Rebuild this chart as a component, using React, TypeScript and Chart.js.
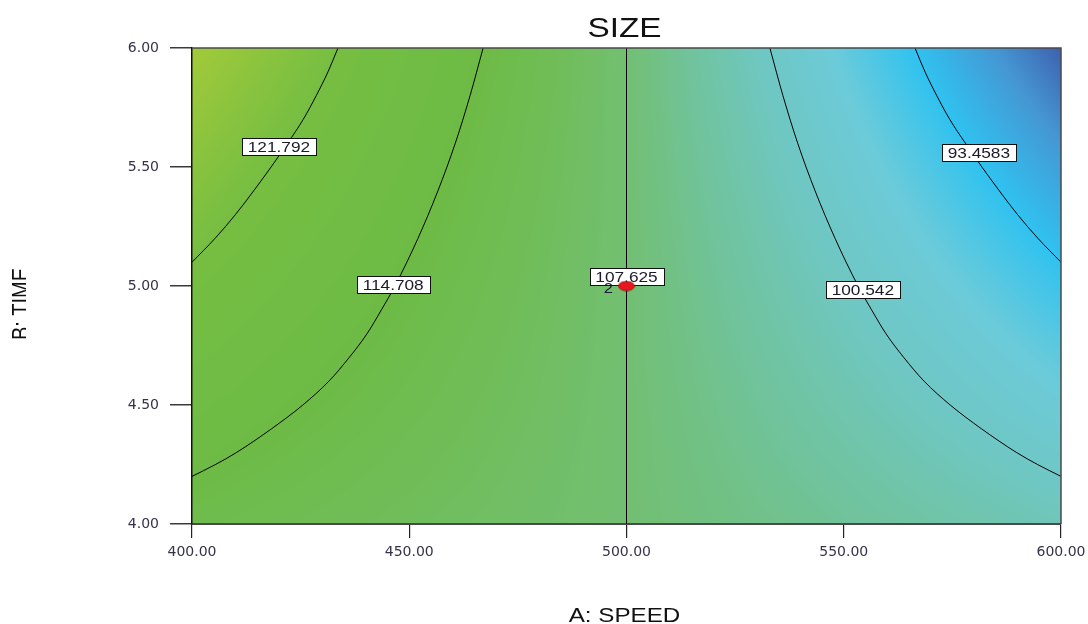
import { useEffect, useRef } from 'react';
import { Chart, registerables } from 'chart.js';

Chart.register(...registerables);

// ---- axes ----
const speedTicks = [400, 450, 500, 550, 600];
const timeTicks = [4, 4.5, 5, 5.5, 6];

// ---- estimated response surface (SIZE) on a coarse grid, rows = TIME, cols = SPEED ----
const gridSpeed = [400, 450, 500, 550, 600];
const gridTime = [4, 4.5, 5, 5.5, 6];
const gridSizeT4 = [113.2, 110.4, 107.6, 104.8, 102.0];
const gridSizeT45 = [117.1, 112.4, 107.6, 102.9, 98.1];
const gridSizeT5 = [120.9, 114.3, 107.6, 101.0, 94.3];
const gridSizeT55 = [124.9, 116.3, 107.6, 99.0, 90.3];
const gridSizeT6 = [129.0, 118.3, 107.6, 96.9, 86.2];

// ---- colour map (value -> colour) ----
const cmapValues = [86, 89.5, 93.5, 97.5, 101, 104.5, 107.6, 111, 114.7, 121.8, 129];
const cmapColors = ['#3d5dac', '#4597d3', '#30c2f0', '#6ccbd9', '#6fc7c3', '#70c39c', '#72bf72', '#70bd58', '#6dbb45', '#76be42', '#a2ca3a'];

// ---- contour lines (SPEED, TIME) ----
const contourLevels = ['121.792', '114.708', '107.625', '100.542', '93.4583'];
const contour121: [number, number][] = [[433.6, 6], [431.3, 5.9], [428.6, 5.8], [425.6, 5.7], [422.0, 5.6], [418.2, 5.5], [414.2, 5.4], [410.0, 5.3], [405.3, 5.2], [400, 5.1]];
const contour114: [number, number][] = [[467.0, 6], [464.0, 5.8], [460.6, 5.6], [456.6, 5.4], [452.0, 5.2], [446.7, 5.0], [443.6, 4.9], [440.3, 4.8], [436.2, 4.7], [431.5, 4.6], [425.5, 4.5], [418.3, 4.4], [410.2, 4.3], [405.4, 4.25], [400, 4.2]];
const contour107: [number, number][] = [[500, 6], [500, 4]];
const contour100: [number, number][] = [[533.0, 6], [536.0, 5.8], [539.4, 5.6], [543.4, 5.4], [548.0, 5.2], [553.3, 5.0], [556.4, 4.9], [559.7, 4.8], [563.8, 4.7], [568.5, 4.6], [574.5, 4.5], [581.7, 4.4], [589.8, 4.3], [594.6, 4.25], [600, 4.2]];
const contour93: [number, number][] = [[566.4, 6], [568.7, 5.9], [571.4, 5.8], [574.4, 5.7], [578.0, 5.6], [581.8, 5.5], [585.8, 5.4], [590.0, 5.3], [594.7, 5.2], [600, 5.1]];

// ---- contour label positions ----
const labelSpeed = [420.0, 446.3, 500, 554.4, 581.1];
const labelTime = [5.588, 5.008, 5.038, 4.987, 5.563];

// ---- design point ----
const designSpeed = [500];
const designTime = [5];
const designCount = ['2'];

const gridSize = [gridSizeT4, gridSizeT45, gridSizeT5, gridSizeT55, gridSizeT6];

function hexToRgb(h: string): number[] {
  const n = parseInt(h.slice(1), 16);
  return [(n >> 16) & 255, (n >> 8) & 255, n & 255];
}
const cmapRgb = cmapColors.map(hexToRgb);

function seg(arr: number[], v: number): [number, number] {
  let k = 0;
  while (k < arr.length - 2 && v > arr[k + 1]) k++;
  const f = (v - arr[k]) / (arr[k + 1] - arr[k]);
  return [k, Math.max(0, Math.min(1, f))];
}

function surface(s: number, t: number): number {
  const [i, fx] = seg(gridSpeed, s);
  const [j, fy] = seg(gridTime, t);
  const v00 = gridSize[j][i], v10 = gridSize[j][i + 1];
  const v01 = gridSize[j + 1][i], v11 = gridSize[j + 1][i + 1];
  return v00 * (1 - fx) * (1 - fy) + v10 * fx * (1 - fy) + v01 * (1 - fx) * fy + v11 * fx * fy;
}

function colorOf(v: number): number[] {
  const [k, f] = seg(cmapValues, v);
  const a = cmapRgb[k], b = cmapRgb[k + 1];
  return [a[0] + (b[0] - a[0]) * f, a[1] + (b[1] - a[1]) * f, a[2] + (b[2] - a[2]) * f];
}

const toPts = (arr: [number, number][]) => arr.map(([x, y]) => ({ x, y }));

function makeDot(): HTMLCanvasElement {
  const c = document.createElement('canvas');
  c.width = 18;
  c.height = 11;
  const g = c.getContext('2d')!;
  g.beginPath();
  g.ellipse(9, 5.5, 8, 4.6, 0, 0, Math.PI * 2);
  g.fillStyle = '#e8161e';
  g.fill();
  g.lineWidth = 1;
  g.strokeStyle = '#a80c10';
  g.stroke();
  return c;
}

const heatmapPlugin = {
  id: 'heatmap',
  beforeDraw(chart: any) {
    const { ctx, chartArea: a, scales } = chart;
    const xs = scales.x, ys = scales.y;
    const left = Math.round(a.left), top = Math.round(a.top);
    const w = Math.round(a.right) - left, h = Math.round(a.bottom) - top;
    const img = ctx.createImageData(w, h);
    const colVals: number[] = [];
    for (let i = 0; i < w; i++) colVals.push(xs.getValueForPixel(left + i + 0.5));
    for (let j = 0; j < h; j++) {
      const t = ys.getValueForPixel(top + j + 0.5);
      for (let i = 0; i < w; i++) {
        const c = colorOf(surface(colVals[i], t));
        const p = (j * w + i) * 4;
        img.data[p] = c[0];
        img.data[p + 1] = c[1];
        img.data[p + 2] = c[2];
        img.data[p + 3] = 255;
      }
    }
    ctx.putImageData(img, left, top);
  },
};

function stretchedText(ctx: CanvasRenderingContext2D, text: string, x: number, y: number, font: string, sx: number, align: CanvasTextAlign, baseline: CanvasTextBaseline) {
  ctx.save();
  ctx.translate(x, y);
  ctx.scale(sx, 1);
  ctx.font = font;
  ctx.textAlign = align;
  ctx.textBaseline = baseline;
  ctx.fillText(text, 0, 0);
  ctx.restore();
}

const labelsPlugin = {
  id: 'contourLabels',
  beforeDatasetDraw(chart: any, args: any) {
    if (args.index !== 0) return;
    const { ctx, scales } = chart;
    const font = '14.5px "Liberation Sans", Arial, sans-serif';
    for (let k = 0; k < contourLevels.length; k++) {
      const px = scales.x.getPixelForValue(labelSpeed[k]);
      const py = scales.y.getPixelForValue(labelTime[k]);
      ctx.save();
      ctx.font = font;
      const tw = ctx.measureText(contourLevels[k]).width * 1.19;
      const bw = Math.round(tw + 12), bh = 17;
      const bx = Math.round(px - bw / 2) + 0.5, by = Math.round(py - bh / 2) + 0.5;
      ctx.fillStyle = '#ffffff';
      ctx.fillRect(bx, by, bw, bh);
      ctx.strokeStyle = '#111111';
      ctx.lineWidth = 1;
      ctx.strokeRect(bx, by, bw, bh);
      ctx.restore();
      ctx.fillStyle = '#1a1a2a';
      stretchedText(ctx, contourLevels[k], px, by + 13.5, font, 1.19, 'center', 'alphabetic');
    }
  },
  afterDatasetsDraw(chart: any) {
    const { ctx, chartArea: a, scales } = chart;
    ctx.save();
    ctx.strokeStyle = '#4a4a4a';
    ctx.lineWidth = 1.5;
    ctx.beginPath();
    ctx.moveTo(a.left, a.top);
    ctx.lineTo(a.right, a.top);
    ctx.lineTo(a.right, a.bottom);
    ctx.stroke();
    ctx.restore();
    ctx.fillStyle = '#1a1a3a';
    for (let k = 0; k < designSpeed.length; k++) {
      const px = scales.x.getPixelForValue(designSpeed[k]);
      const py = scales.y.getPixelForValue(designTime[k]);
      stretchedText(ctx, designCount[k], px - 18, py + 7, '14px "Liberation Sans", Arial, sans-serif', 1.19, 'center', 'alphabetic');
    }
  },
  afterDraw(chart: any) {
    const { ctx, chartArea: a } = chart;
    const cx = (a.left + a.right) / 2 - 2;
    ctx.fillStyle = '#111111';
    stretchedText(ctx, 'SIZE', cx, 37, '28px "Liberation Sans", Arial, sans-serif', 1.19, 'center', 'alphabetic');
    stretchedText(ctx, 'A: SPEED', cx, 622, '20px "Liberation Sans", Arial, sans-serif', 1.21, 'center', 'alphabetic');
    ctx.save();
    ctx.beginPath();
    ctx.rect(0, 0, 26, 624);
    ctx.clip();
    ctx.translate(29, 304);
    ctx.rotate(-Math.PI / 2);
    ctx.scale(1, 1.19);
    ctx.font = '20px "Liberation Sans", Arial, sans-serif';
    ctx.textAlign = 'center';
    ctx.textBaseline = 'alphabetic';
    ctx.fillStyle = '#111111';
    ctx.fillText('B: TIME', 0, 0);
    ctx.restore();
  },
};

export default function App() {
  const ref = useRef<HTMLCanvasElement | null>(null);
  useEffect(() => {
    if (!ref.current) return;
    const dot = makeDot();
    const lineDs = (pts: [number, number][], smooth: boolean) => ({
      type: 'scatter' as const,
      data: toPts(pts),
      showLine: true,
      borderColor: '#000000',
      borderWidth: 1,
      pointRadius: 0,
      tension: smooth ? 0.4 : 0,
      cubicInterpolationMode: smooth ? 'monotone' : 'default',
      order: 1,
    });
    const chart = new Chart(ref.current, {
      type: 'scatter',
      data: {
        datasets: [
          {
            data: designSpeed.map((x, i) => ({ x, y: designTime[i] })),
            pointStyle: dot as any,
            pointRadius: 8,
            showLine: false,
            order: 0,
          } as any,
          lineDs(contour121, true),
          lineDs(contour114, true),
          lineDs(contour107, false),
          lineDs(contour100, true),
          lineDs(contour93, true),
        ],
      },
      options: {
        responsive: false,
        animation: false,
        events: [],
        devicePixelRatio: 1,
        layout: { padding: { left: 0, right: 27, top: 48, bottom: 0 } },
        plugins: { legend: { display: false }, tooltip: { enabled: false }, title: { display: false } },
        scales: {
          x: {
            type: 'linear',
            min: 400,
            max: 600,
            afterBuildTicks: (s: any) => { s.ticks = speedTicks.map((v) => ({ value: v })); },
            afterFit: (s: any) => { s.height = 100; s.paddingLeft = 0; s.paddingRight = 0; },
            ticks: {
              callback: (v: any) => Number(v).toFixed(2),
              font: { family: '"DejaVu Sans"', size: 14 },
              color: '#33334a',
              padding: 6,
              maxRotation: 0,
              autoSkip: false,
            },
            grid: { drawOnChartArea: false, drawTicks: true, tickLength: 14, color: '#222222', lineWidth: 1.2 },
            border: { display: true, color: '#4a4a4a', width: 2 },
          },
          y: {
            type: 'linear',
            min: 4,
            max: 6,
            afterBuildTicks: (s: any) => { s.ticks = timeTicks.map((v) => ({ value: v })); },
            afterFit: (s: any) => { s.width = 192; s.paddingTop = 0; s.paddingBottom = 0; },
            ticks: {
              callback: (v: any) => Number(v).toFixed(2),
              font: { family: '"DejaVu Sans"', size: 14 },
              color: '#33334a',
              padding: 11,
              autoSkip: false,
            },
            grid: { drawOnChartArea: false, drawTicks: true, tickLength: 22, color: '#3a3a3a', lineWidth: 1.5 },
            border: { display: true, color: '#111111', width: 1.5 },
          },
        },
      },
      plugins: [heatmapPlugin, labelsPlugin],
    } as any);
    return () => chart.destroy();
  }, []);
  return (
    <div style={{ position: 'absolute', left: 0, top: 0, width: 1088, height: 624, background: '#ffffff' }}>
      <canvas ref={ref} width={1088} height={624} style={{ display: 'block', width: 1088, height: 624 }} />
    </div>
  );
}
